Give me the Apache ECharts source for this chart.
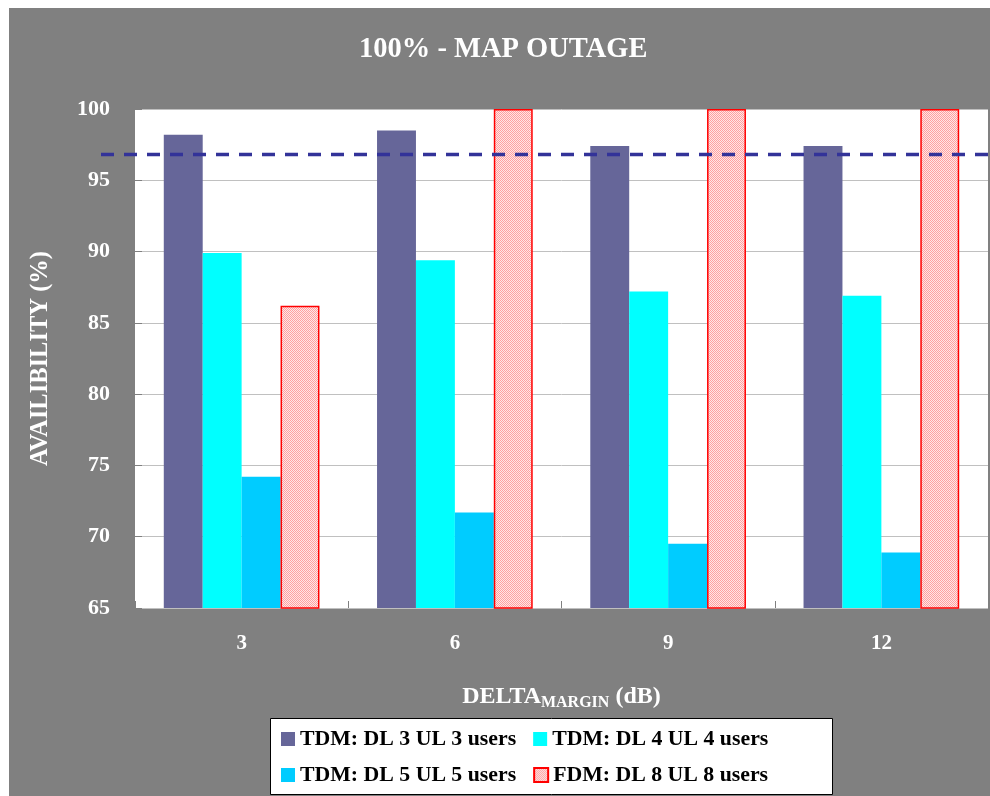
<!DOCTYPE html>
<html>
<head>
<meta charset="utf-8">
<script src="https://cdn.jsdelivr.net/npm/echarts@6/dist/echarts.min.js"></script>
<style>
  html, body { margin: 0; padding: 0; background: #ffffff; }
  #bg { position: absolute; left: 9px; top: 8px; width: 981px; height: 788px; background: #808080; }
  #chart { position: absolute; left: 0; top: 0; width: 990px; height: 796px; }
</style>
</head>
<body>
<div id="bg"></div>
<div id="chart"></div>
<script>
// ---- data ----
const categories = ['3', '6', '9', '12'];
const seriesNames = ['TDM: DL 3 UL 3 users', 'TDM: DL 4 UL 4 users', 'TDM: DL 5 UL 5 users', 'FDM: DL 8 UL 8 users'];
const tdm3 = [98.2, 98.5, 97.4, 97.4];
const tdm4 = [89.9, 89.4, 87.2, 86.9];
const tdm5 = [74.2, 71.7, 69.5, 68.9];
const fdm8 = [86.2, 100, 100, 100];
const refLevel = 96.8;
const yTicks = [65, 70, 75, 80, 85, 90, 95, 100];

const FONT = '"Liberation Serif", "Times New Roman", serif';

// checker pattern for FDM bars
const pc = document.createElement('canvas');
pc.width = 2; pc.height = 2;
const pctx = pc.getContext('2d');
pctx.fillStyle = '#ffe6e6'; pctx.fillRect(0, 0, 2, 2);
pctx.fillStyle = '#ffa0a0'; pctx.fillRect(0, 0, 1, 1); pctx.fillRect(1, 1, 1, 1);

const chart = echarts.init(document.getElementById('chart'), null, { renderer: 'canvas' });

const legendText = { color: '#000', fontFamily: FONT, fontWeight: 'bold', fontSize: 21.8, lineHeight: 22 };

const option = {
  backgroundColor: 'transparent',
  animation: false,
  title: {
    text: '100% - MAP OUTAGE',
    left: 359, top: 35, padding: 0,
    textStyle: { color: '#fff', fontFamily: FONT, fontWeight: 'bold', fontSize: 28.5 }
  },
  graphic: [
    { type: 'rect', z: 1, shape: { x: 270.5, y: 718.5, width: 562, height: 76 },
      style: { fill: '#fff', stroke: '#000', lineWidth: 1 } }
  ],
  legend: [
    { data: [seriesNames[0], seriesNames[1]], left: 281, top: 728, padding: 0, itemGap: 17,
      itemWidth: 14, itemHeight: 14, icon: 'rect', textStyle: legendText, z: 5 },
    { data: [seriesNames[2], seriesNames[3]], left: 281, top: 764, padding: 0, itemGap: 17,
      itemWidth: 14, itemHeight: 14, icon: 'rect', textStyle: legendText, z: 5 }
  ],
  grid: [
    { left: 135, right: 2, top: 109, bottom: 188, show: true, backgroundColor: '#fff', borderWidth: 0 },
    { left: 101, right: 2, top: 109, bottom: 188, show: false }
  ],
  xAxis: [
    {
      type: 'category', gridIndex: 0, data: categories,
      axisLine: { show: false },
      axisTick: { show: true, inside: true, length: 7, interval: 0, lineStyle: { color: '#808080', width: 1 } },
      axisLabel: { color: '#fff', fontFamily: FONT, fontWeight: 'bold', fontSize: 21, margin: 25 },
      name: '{a|DELTA}{b|MARGIN}{a| (dB)}',
      nameLocation: 'middle', nameGap: 77,
      nameTextStyle: {
        color: '#fff',
        rich: {
          a: { color: '#fff', fontFamily: FONT, fontWeight: 'bold', fontSize: 24, lineHeight: 26, verticalAlign: 'bottom', padding: [0, 0, 2, 0] },
          b: { color: '#fff', fontFamily: FONT, fontWeight: 'bold', fontSize: 16, lineHeight: 17, verticalAlign: 'bottom' }
        }
      }
    },
    { type: 'value', gridIndex: 1, min: 0, max: 1, show: false }
  ],
  yAxis: [
    {
      type: 'value', gridIndex: 0, min: 65, max: 100, interval: 5,
      axisLine: { show: false },
      axisTick: { show: true, inside: true, length: 7, lineStyle: { color: '#808080' } },
      splitLine: { show: true, lineStyle: { color: '#c0c0c0', width: 1 } },
      axisLabel: { color: '#fff', fontFamily: FONT, fontWeight: 'bold', fontSize: 22, margin: 25,
        formatter: v => (yTicks.indexOf(v) >= 0 ? String(v) : '') },
      name: 'AVAILIBILITY (%)', nameLocation: 'middle', nameGap: 82,
      nameTextStyle: { color: '#fff', fontFamily: FONT, fontWeight: 'bold', fontSize: 24.5 }
    },
    { type: 'value', gridIndex: 1, min: 65, max: 100, show: false }
  ],
  series: [
    { name: seriesNames[0], type: 'bar', data: tdm3, barGap: '0%', barCategoryGap: '27%',
      itemStyle: { color: '#666699' } },
    { name: seriesNames[1], type: 'bar', data: tdm4, barGap: '0%', barCategoryGap: '27%',
      itemStyle: { color: '#00ffff' } },
    { name: seriesNames[2], type: 'bar', data: tdm5, barGap: '0%', barCategoryGap: '27%',
      itemStyle: { color: '#00ccff' } },
    { name: seriesNames[3], type: 'bar', data: fdm8, barGap: '0%', barCategoryGap: '27%',
      itemStyle: { color: { image: pc, repeat: 'repeat' }, borderColor: '#ff0000', borderWidth: 1.5 } },
    { name: 'ref', type: 'line', xAxisIndex: 1, yAxisIndex: 1, z: 10,
      data: [[0, refLevel], [1, refLevel]], symbol: 'none', silent: true,
      lineStyle: { color: '#333399', width: 3.5, type: [13, 10] } }
  ]
};
chart.setOption(option);
</script>
</body>
</html>
